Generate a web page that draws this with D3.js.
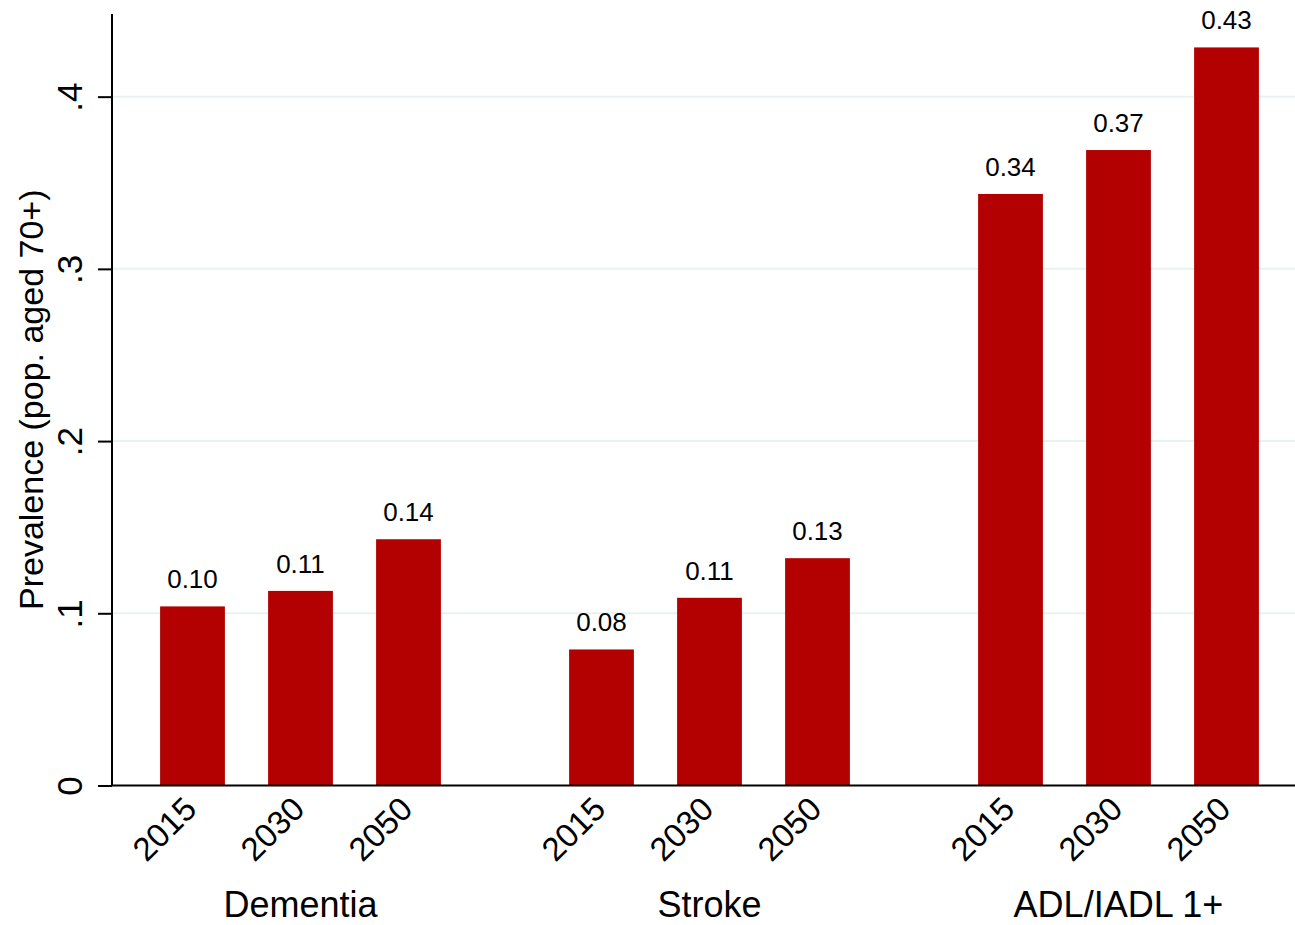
<!DOCTYPE html>
<html>
<head>
<meta charset="utf-8">
<script src="https://cdn.jsdelivr.net/npm/d3@7"></script>
<style>
  body { margin: 0; background: #fff; }
  text { font-family: "Liberation Sans", Arial, sans-serif; fill: #000; }
</style>
</head>
<body>
<div id="chart"></div>
<script>
// data
var groups = ['Dementia', 'Stroke', 'ADL/IADL 1+'];
var years = ['2015', '2030', '2050'];
var dementiaVals = [0.104, 0.113, 0.143];
var strokeVals = [0.079, 0.109, 0.132];
var adlVals = [0.3435, 0.369, 0.4286];
var yTicks = [0, 0.1, 0.2, 0.3, 0.4];
var yTickLabels = ['0', '.1', '.2', '.3', '.4'];

var seriesByGroup = {'Dementia': dementiaVals, 'Stroke': strokeVals, 'ADL/IADL 1+': adlVals};

// flatten to one row per bar
var rows = [];
groups.forEach(function(g){
    seriesByGroup[g].forEach(function(v, i){
        rows.push({group: g, year: years[i], value: v});
    });
});

var width = 1295, height = 925;
var plotLeft = 112, plotRight = 1295, plotTop = 14, plotBottom = 785.5;

var svg = d3.select('#chart').append('svg')
    .attr('width', width)
    .attr('height', height);

// scales
var yScale = d3.scaleLinear()
    .domain([0, 0.448])
    .range([plotBottom, plotTop]);

var xGroup = d3.scalePoint()
    .domain(groups)
    .range([300.5, 1118.5]);

var xYear = d3.scaleBand()
    .domain(years)
    .range([-162, 162])
    .paddingInner(0.4)
    .paddingOuter(0.2);

function barCenter(d){
    return xGroup(d.group) + xYear(d.year) + xYear.bandwidth() / 2;
}

// gridlines
svg.append('g')
    .selectAll('line')
    .data(yTicks.filter(function(t){ return t > 0; }))
    .enter()
    .append('line')
        .attr('x1', plotLeft)
        .attr('x2', plotRight)
        .attr('y1', function(d){ return yScale(d); })
        .attr('y2', function(d){ return yScale(d); })
        .style('stroke', '#eaf1f3')
        .style('stroke-width', 2);

// bars
svg.append('g')
    .selectAll('rect')
    .data(rows)
    .enter()
    .append('rect')
        .attr('x', function(d){ return xGroup(d.group) + xYear(d.year); })
        .attr('y', function(d){ return yScale(d.value); })
        .attr('width', xYear.bandwidth())
        .attr('height', function(d){ return plotBottom - yScale(d.value); })
        .style('fill', '#b30000');

// value labels
svg.append('g')
    .selectAll('text')
    .data(rows)
    .enter()
    .append('text')
        .attr('x', barCenter)
        .attr('y', function(d){ return yScale(d.value) - 18; })
        .attr('text-anchor', 'middle')
        .style('font-size', '26px')
        .text(function(d){ return d3.format('.2f')(d.value); });

// y axis
var yAxis = d3.axisLeft(yScale)
    .tickValues(yTicks)
    .tickFormat(function(d, i){ return yTickLabels[i]; })
    .tickSize(14)
    .tickPadding(0);

var yAxisG = svg.append('g')
    .attr('transform', 'translate(' + plotLeft + ',0)')
    .call(yAxis);
yAxisG.select('.domain').remove();
yAxisG.selectAll('.tick line').style('stroke', '#000').style('stroke-width', 2);
yAxisG.selectAll('.tick text')
    .attr('x', null).attr('dy', null)
    .attr('text-anchor', 'middle')
    .attr('transform', 'translate(-30,0) rotate(-90)')
    .style('font-size', '35px')
    .style('font-family', '"Liberation Sans", Arial, sans-serif');

// axis lines
svg.append('line')
    .attr('x1', plotLeft).attr('x2', plotLeft)
    .attr('y1', plotTop).attr('y2', plotBottom)
    .style('stroke', '#000').style('stroke-width', 2);
svg.append('line')
    .attr('x1', plotLeft).attr('x2', plotRight)
    .attr('y1', plotBottom).attr('y2', plotBottom)
    .style('stroke', '#000').style('stroke-width', 2);

// y title
svg.append('text')
    .attr('transform', 'translate(43,' + (plotTop + plotBottom) / 2 + ') rotate(-90)')
    .attr('text-anchor', 'middle')
    .style('font-size', '34px')
    .text('Prevalence (pop. aged 70+)');

// year labels, angled
svg.append('g')
    .selectAll('text')
    .data(rows)
    .enter()
    .append('text')
        .attr('transform', function(d){
            return 'translate(' + (barCenter(d) + 6) + ',811) rotate(-45)';
        })
        .attr('text-anchor', 'end')
        .style('font-size', '33px')
        .text(function(d){ return d.year; });

// group labels
svg.append('g')
    .selectAll('text')
    .data(groups)
    .enter()
    .append('text')
        .attr('x', function(d){ return xGroup(d); })
        .attr('y', 917)
        .attr('text-anchor', 'middle')
        .style('font-size', '36px')
        .text(function(d){ return d; });
</script>
</body>
</html>
